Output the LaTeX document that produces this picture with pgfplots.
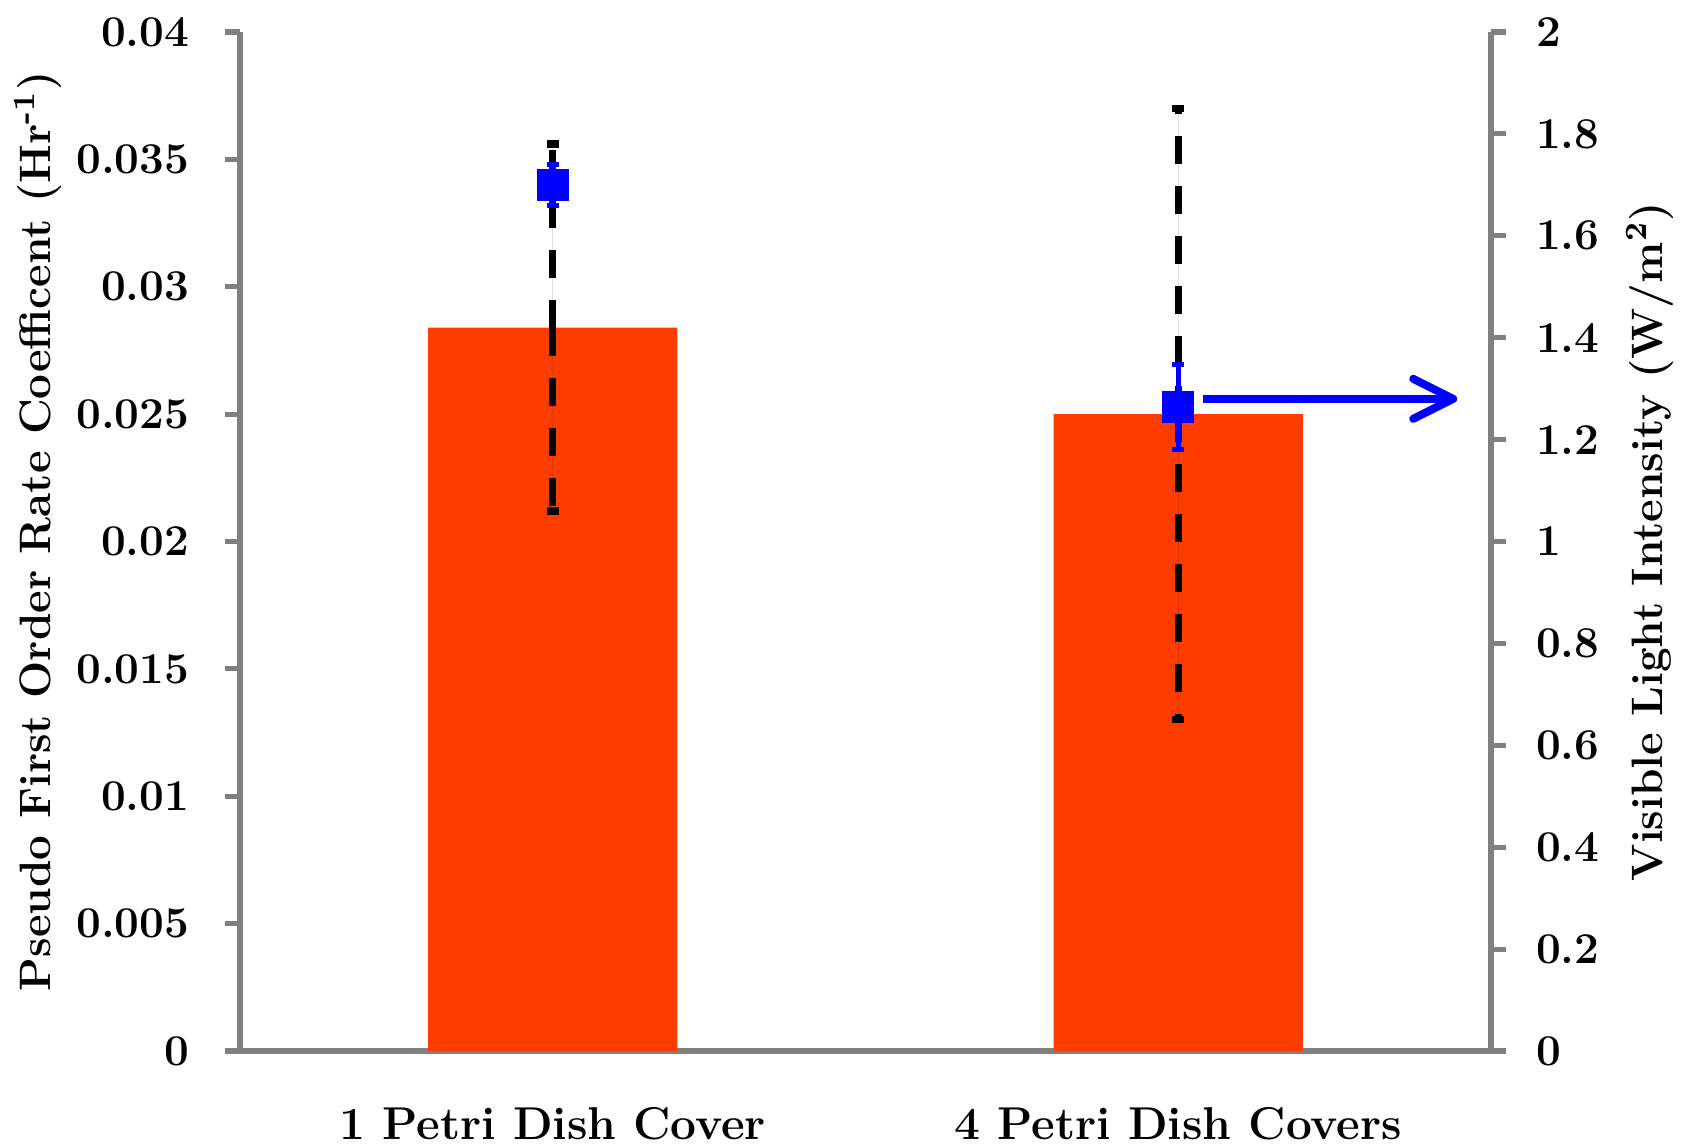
\documentclass[border=0pt]{standalone}
\usepackage{pgfplots}
\pgfplotsset{compat=1.18}
\usetikzlibrary{arrows.meta}
\definecolor{barred}{RGB}{255,60,0}
\definecolor{axgray}{RGB}{128,128,128}
\begin{document}
\begin{tikzpicture}
\pgfplotsset{
  common/.style={
    scale only axis,
    width=312.75pt, height=254.75pt,
    xmin=-0.5, xmax=1.5,
    scaled y ticks=false, scaled x ticks=false,
    axis line style={axgray, line width=1.3pt, -},
    tick style={axgray, line width=1.3pt},
    tick align=outside,
    major tick length=3.75pt,
    ticklabel style={font=\fontsize{11}{13}\selectfont\bfseries},
    label style={font=\fontsize{11}{13}\selectfont\bfseries},
  }
}
\begin{axis}[common,
  axis x line*=bottom, axis y line*=left,
  ymin=0, ymax=0.04,
  ytick={0,0.005,0.01,0.015,0.02,0.025,0.03,0.035,0.04},
  yticklabels={0,0.005,0.01,0.015,0.02,0.025,0.03,0.035,0.04},
  yticklabel style={xshift=-5.4pt},
  xtick={0,1},
  xticklabels={1 Petri Dish Cover,4 Petri Dish Covers},
  xticklabel style={yshift=-6.7pt, font=\fontsize{11.5}{13}\selectfont\bfseries},
  x tick style={draw=none},
  minor xtick={-0.5,0.5,1.5},
  minor tick length=4pt,
  minor x tick style={axgray, line width=1.3pt},
  ylabel={Pseudo First Order Rate Coefficent (Hr\textsuperscript{-1})},
  ylabel style={at={(axis description cs:-0.1618,0.51)}, anchor=center},
  ybar, bar width=62.3pt,
]
\addplot[fill=barred, draw=none,
  error bars/.cd, y dir=both, y explicit,
  error bar style={black, line width=1.8pt, dash pattern=on 7pt off 5.5pt},
  error mark options={rotate=90, black, solid, line width=1.8pt, mark size=1.5pt}]
  coordinates {(0,0.0284) +- (0,0.0072) (1,0.0250) +- (0,0.0120)};
\end{axis}
\begin{axis}[common,
  axis x line=none, axis y line*=right,
  xtick=\empty, xticklabels={},
  ymin=0, ymax=2,
  ytick={0,0.2,0.4,0.6,0.8,1,1.2,1.4,1.6,1.8,2},
  yticklabels={0,0.2,0.4,0.6,0.8,1,1.2,1.4,1.6,1.8,2},
  yticklabel style={xshift=4pt},
  ylabel={Visible Light Intensity (W/m\textsuperscript{2})},
  ylabel style={at={(axis description cs:1.127,0.5)}, anchor=center},
]
\addplot[only marks, mark=square*, mark size=3.75pt, blue,
  error bars/.cd, y dir=both, y explicit,
  error bar style={blue, line width=1.3pt},
  error mark options={rotate=90, blue, line width=1.3pt, mark size=1.5pt}]
  coordinates {(0,1.70) +- (0,0.04) (1,1.264) +- (0,0.083)};
\addplot[blue, line width=2pt, no marks,
  -{Straight Barb[length=10pt, width=10pt, line width=2pt, round]}]
  coordinates {(1.04,1.28) (1.446,1.28)};
\end{axis}
\pgfresetboundingbox
\path[use as bounding box] (-60pt,-24pt) rectangle (360.5pt,262.75pt);
\end{tikzpicture}
\end{document}
